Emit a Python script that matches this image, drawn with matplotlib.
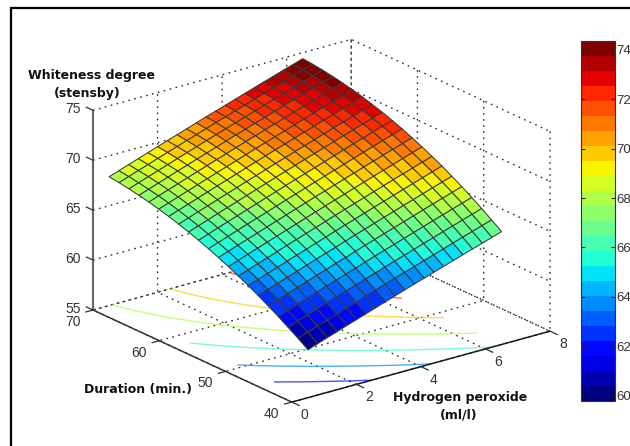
import numpy as np
import matplotlib
matplotlib.use("Agg")
import matplotlib.pyplot as plt
from matplotlib.cm import ScalarMappable
from matplotlib.colors import Normalize
from matplotlib.lines import Line2D
from mpl_toolkits.mplot3d import proj3d

# ---------- data ----------
peroxide = [0.5, 0.8, 1.1, 1.4, 1.7, 2.0, 2.3, 2.6, 2.9, 3.2, 3.5,
            3.8, 4.1, 4.4, 4.7, 5.0, 5.3, 5.6, 5.9, 6.2, 6.5]
duration = [40.0, 41.5, 43.0, 44.5, 46.0, 47.5, 49.0, 50.5, 52.0, 53.5, 55.0,
            56.5, 58.0, 59.5, 61.0, 62.5, 64.0, 65.5, 67.0, 68.5, 70.0]
whiteness = [
    [59.80, 60.14, 60.48, 60.81, 61.15, 61.48, 61.81, 62.14, 62.47, 62.80, 63.13, 63.45, 63.77, 64.09, 64.41, 64.73, 65.05, 65.36, 65.68, 65.99, 66.30],
    [60.48, 60.83, 61.17, 61.50, 61.84, 62.17, 62.50, 62.83, 63.17, 63.50, 63.83, 64.15, 64.47, 64.79, 65.11, 65.43, 65.76, 66.07, 66.39, 66.70, 67.01],
    [61.13, 61.48, 61.82, 62.15, 62.50, 62.83, 63.16, 63.49, 63.83, 64.16, 64.49, 64.81, 65.14, 65.46, 65.78, 66.10, 66.43, 66.74, 67.06, 67.37, 67.69],
    [61.75, 62.09, 62.44, 62.77, 63.12, 63.45, 63.79, 64.12, 64.46, 64.79, 65.13, 65.45, 65.77, 66.10, 66.42, 66.75, 67.07, 67.39, 67.71, 68.02, 68.34],
    [62.35, 62.70, 63.04, 63.38, 63.72, 64.06, 64.39, 64.73, 65.06, 65.40, 65.74, 66.06, 66.39, 66.71, 67.04, 67.36, 67.69, 68.01, 68.33, 68.65, 68.96],
    [62.91, 63.26, 63.60, 63.94, 64.29, 64.62, 64.96, 65.30, 65.63, 65.97, 66.31, 66.63, 66.96, 67.29, 67.61, 67.94, 68.26, 68.58, 68.91, 69.22, 69.54],
    [63.45, 63.80, 64.14, 64.48, 64.83, 65.17, 65.50, 65.84, 66.18, 66.52, 66.85, 67.18, 67.51, 67.84, 68.16, 68.49, 68.82, 69.13, 69.46, 69.78, 70.10],
    [63.95, 64.30, 64.65, 64.98, 65.33, 65.67, 66.01, 66.35, 66.68, 67.02, 67.36, 67.69, 68.02, 68.34, 68.67, 69.00, 69.33, 69.65, 69.97, 70.29, 70.61],
    [64.43, 64.78, 65.13, 65.47, 65.81, 66.15, 66.49, 66.83, 67.17, 67.51, 67.84, 68.17, 68.50, 68.83, 69.16, 69.49, 69.81, 70.13, 70.46, 70.78, 71.10],
    [64.88, 65.23, 65.58, 65.92, 66.26, 66.60, 66.94, 67.28, 67.62, 67.96, 68.30, 68.62, 68.95, 69.28, 69.61, 69.94, 70.27, 70.59, 70.92, 71.23, 71.55],
    [65.30, 65.65, 66.00, 66.34, 66.69, 67.02, 67.36, 67.70, 68.04, 68.38, 68.72, 69.05, 69.37, 69.70, 70.03, 70.36, 70.69, 71.01, 71.34, 71.66, 71.98],
    [65.69, 66.04, 66.39, 66.73, 67.07, 67.41, 67.75, 68.09, 68.43, 68.77, 69.11, 69.43, 69.76, 70.09, 70.42, 70.75, 71.08, 71.40, 71.73, 72.04, 72.36],
    [66.05, 66.40, 66.75, 67.09, 67.43, 67.77, 68.11, 68.45, 68.79, 69.13, 69.46, 69.79, 70.12, 70.45, 70.78, 71.11, 71.43, 71.75, 72.08, 72.40, 72.72],
    [66.38, 66.73, 67.08, 67.41, 67.76, 68.10, 68.44, 68.78, 69.11, 69.45, 69.79, 70.12, 70.45, 70.77, 71.10, 71.43, 71.76, 72.08, 72.40, 72.72, 73.04],
    [66.69, 67.04, 67.38, 67.72, 68.07, 68.41, 68.74, 69.08, 69.42, 69.76, 70.09, 70.42, 70.75, 71.08, 71.40, 71.73, 72.06, 72.37, 72.70, 73.02, 73.34],
    [66.96, 67.31, 67.65, 67.99, 68.34, 68.67, 69.01, 69.35, 69.68, 70.02, 70.36, 70.68, 71.01, 71.34, 71.66, 71.99, 72.31, 72.63, 72.96, 73.27, 73.59],
    [67.21, 67.56, 67.90, 68.24, 68.58, 68.92, 69.25, 69.59, 69.92, 70.26, 70.60, 70.92, 71.25, 71.57, 71.90, 72.22, 72.55, 72.87, 73.19, 73.51, 73.82],
    [67.42, 67.76, 68.11, 68.44, 68.79, 69.12, 69.46, 69.79, 70.13, 70.46, 70.80, 71.12, 71.44, 71.77, 72.09, 72.42, 72.74, 73.06, 73.38, 73.69, 74.01],
    [67.61, 67.95, 68.30, 68.63, 68.97, 69.31, 69.64, 69.97, 70.31, 70.64, 70.97, 71.29, 71.62, 71.94, 72.26, 72.59, 72.91, 73.22, 73.55, 73.86, 74.17],
    [67.77, 68.11, 68.45, 68.78, 69.13, 69.46, 69.79, 70.12, 70.45, 70.78, 71.12, 71.44, 71.76, 72.08, 72.40, 72.72, 73.05, 73.36, 73.68, 73.99, 74.30],
    [67.90, 68.24, 68.58, 68.91, 69.25, 69.58, 69.91, 70.24, 70.57, 70.90, 71.23, 71.55, 71.87, 72.19, 72.51, 72.83, 73.15, 73.46, 73.78, 74.09, 74.40],
]
contour_levels = [62, 64, 66, 68, 70, 72]
x_ticks = [0, 2, 4, 6, 8]
y_ticks = [40, 50, 60, 70]
z_ticks = [55, 60, 65, 70, 75]
cbar_ticks = [60, 62, 64, 66, 68, 70, 72, 74]
color_range = (59.78, 74.36)

# ---------- style ----------
W, H = 630, 446
plt.rcParams["font.family"] = ["Liberation Sans", "DejaVu Sans"]
plt.rcParams["grid.linestyle"] = (0, (1.2, 3.2))
plt.rcParams["grid.linewidth"] = 1.0
plt.rcParams["grid.color"] = "#303030"

fig = plt.figure(figsize=(W / 100, H / 100), dpi=100, facecolor="white")
side = 500
ax = fig.add_axes([0.1, 0.1, side / W, side / H], projection="3d",
                  proj_type="ortho", computed_zorder=False)
ax.set_facecolor("none")
ax.view_init(elev=20.9, azim=232.4)
ax.set_box_aspect((1, 1, 0.656))
ax.set_xlim(x_ticks[0], x_ticks[-1])
ax.set_ylim(y_ticks[0], y_ticks[-1])
ax.set_zlim(z_ticks[0], z_ticks[-1])
ax.set_xticks(x_ticks)
ax.set_yticks(y_ticks)
ax.set_zticks(z_ticks)
ax.grid(True)
for axis in (ax.xaxis, ax.yaxis, ax.zaxis):
    axis.pane.set_visible(False)
    axis.line.set_color("none")
    for tick in axis.get_major_ticks():
        tick.label1.set_visible(False)
        tick.label2.set_visible(False)
ax.tick_params(axis="both", color="none", length=0)
ax.tick_params(axis="z", color="none", length=0)

# ---------- marks ----------
X, Y = np.meshgrid(peroxide, duration)
Z = np.array(whiteness)
norm = Normalize(*color_range)
cmap = plt.get_cmap("jet").resampled(24)

ax.contour(X, Y, Z, levels=contour_levels, zdir="z", offset=z_ticks[0],
           cmap=cmap, norm=norm, linewidths=1.0, alpha=0.7, zorder=1)
ax.plot_surface(X, Y, Z, rstride=1, cstride=1, cmap=cmap, norm=norm,
                edgecolor="#3a3a3a", linewidth=0.75, shade=False,
                antialiased=True, zorder=5)

# axis lines and tick marks
x0, x1 = x_ticks[0], x_ticks[-1]
y0, y1 = y_ticks[0], y_ticks[-1]
z0 = z_ticks[0]
line_kw = dict(lw=1.1, zorder=3, solid_capstyle="butt")
ax.plot([x0, x1], [y0, y0], [z0, z0], color="#1a1a1a", **line_kw)
ax.plot([x0, x0], [y0, y1], [z0, z0], color="#333333", **line_kw)
ax.plot([x0, x0], [y1, y1], [z0, z_ticks[-1]], color="#666666",
        lw=1.5, zorder=3, solid_capstyle="butt")
for t in x_ticks:
    ax.plot([t, t], [y0, y0 - 1.1], [z0, z0], color="#333333", lw=0.9, zorder=3)
for t in y_ticks:
    ax.plot([x0, x0 - 0.22], [t, t], [z0, z0], color="#333333", lw=0.9, zorder=3)
for t in z_ticks:
    ax.plot([x0, x0], [y1, y1 + 1.0], [t, t], color="#333333", lw=0.9, zorder=3)


# ---------- place the axes so that the box corners land on the reference ----------
def to_px(x, y, z):
    xs, ys, _ = proj3d.proj_transform(x, y, z, ax.get_proj())
    return ax.transData.transform((xs, ys))


fig.canvas.draw()
a = to_px(x0, y1, z0)
b = to_px(x1, y0, z0)
side = side * 457.0 / (b[0] - a[0])
ax.set_position([0.1, 0.1, side / W, side / H])
fig.canvas.draw()
a = to_px(x0, y1, z0)
px0 = 0.1 * W + 93 - a[0]
py0 = 0.1 * H + (H - 310) - a[1]
ax.set_position([px0 / W, py0 / H, side / W, side / H])
fig.canvas.draw()


# ---------- tick labels, placed next to the projected ticks ----------
def tick_label(point, dx, dy, text):
    p = to_px(*point)
    fig.text((p[0] + dx) / W, (p[1] - dy) / H, text, fontsize=10,
             ha="center", va="center", color="#333333")


for t in x_ticks:
    tick_label((t, y0, z0), 13, 13, str(t))
for t in y_ticks:
    tick_label((x0, t, z0), -20, 12, str(t))
for t in z_ticks:
    tick_label((x0, y1, t), -20, -1, str(t))

# ---------- colorbar ----------
cax = fig.add_axes([581 / W, (H - 401) / H, 34 / W, 360 / H])
cb = fig.colorbar(ScalarMappable(norm=norm, cmap=cmap), cax=cax, ticks=cbar_ticks,
                  spacing="proportional")
cb.outline.set_edgecolor("#333333")
cb.outline.set_linewidth(0.8)
cax.tick_params(axis="y", direction="in", length=3, width=0.8, left=True, right=True,
                labelsize=9.5, pad=1, labelcolor="#333333", color="#222222")

# ---------- axis titles ----------
title_kw = dict(family="DejaVu Sans", fontweight="bold", fontsize=9,
                ha="center", va="center", color="#111111")
fig.text(92 / W, 1 - 75 / H, "Whiteness degree", **title_kw)
fig.text(87 / W, 1 - 94 / H, "(stensby)", **title_kw)
fig.text(138 / W, 1 - 390 / H, "Duration (min.)", **title_kw)
fig.text(460 / W, 1 - 397 / H, "Hydrogen peroxide", **title_kw)
fig.text(459 / W, 1 - 415 / H, "(ml/l)", **title_kw)

# ---------- outer frame ----------
fig.add_artist(Line2D([11 / W, 11 / W, 1], [0, 1 - 8 / H, 1 - 8 / H], color="black",
                      lw=1.6, solid_joinstyle="miter"))

fig.savefig("out.png", dpi=100)
